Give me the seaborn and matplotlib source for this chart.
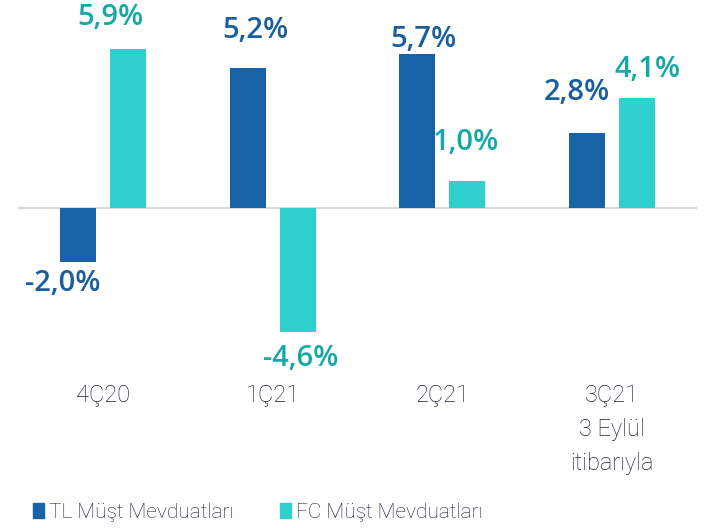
import matplotlib
matplotlib.use('Agg')
import matplotlib.pyplot as plt
import matplotlib.patches as mpatches
import seaborn as sns
import pandas as pd

# Datos
quarters = ['4Ç20', '1Ç21', '2Ç21', '3Ç21\n3 Eylül\nitibarıyla']
series = ['TL Müşt Mevduatları', 'FC Müşt Mevduatları']
tl_values = [-2.0, 5.2, 5.7, 2.8]
fc_values = [5.9, -4.6, 1.0, 4.1]

bar_colors = ['#1763A6', '#2ECFCD']
label_colors = ['#1A5E9E', '#14A9A6']
text_color = '#16223D'

# Desplazamiento de etiquetas (px): (dx, distancia desde el extremo de la barra)
label_nudge = [
    [(-15, 22), (8, 37), (6, 15), (-10, 40)],
    [(-17, 32), (3, 27), (-1, 39), (10, 28)],
]

df = pd.DataFrame({
    'quarter': quarters * 2,
    'series': [series[0]] * 4 + [series[1]] * 4,
    'value': tl_values + fc_values,
})

sns.set_style('white')
plt.rcParams['font.family'] = ['Roboto', 'DejaVu Sans']

fig = plt.figure(figsize=(7.09, 5.28), dpi=100)
ax = fig.add_axes([18 / 709, 1 - 383 / 528, 679 / 709, 377 / 528])

sns.barplot(data=df, x='quarter', y='value', hue='series', order=quarters,
            hue_order=series, palette=bar_colors, width=0.588, gap=0.28,
            linewidth=0, saturation=1, legend=False, ax=ax)

ax.set_xlim(-0.5, 3.5)
ax.set_ylim(-6.5, 7.5)
ax.axhline(0, color='#D9D9D9', lw=1.5, zorder=0)

# Etiquetas de valores
for container, col, nudges in zip(ax.containers, label_colors, label_nudge):
    for patch, (dx, dist) in zip(container, nudges):
        h = patch.get_height()
        x = patch.get_x() + patch.get_width() / 2
        txt = f'{h:.1f}%'.replace('.', ',')
        dy = dist if h >= 0 else -dist
        ax.annotate(txt, (x, h), xytext=(dx, dy), textcoords='offset pixels',
                    ha='center', va='center', color=col, fontsize=21,
                    fontweight='semibold', family=['Open Sans', 'DejaVu Sans'])

ax.set_xlabel('')
ax.set_ylabel('')
ax.set_yticks([])
ax.tick_params(axis='x', length=0, pad=1, labelsize=17, labelcolor=text_color)
for lbl in ax.get_xticklabels():
    lbl.set_fontweight('light')
    lbl.set_linespacing(1.6)
sns.despine(ax=ax, left=True, bottom=True)

# Leyenda
handles = [mpatches.Patch(color=c, label=s) for c, s in zip(bar_colors, series)]
leg = fig.legend(handles=handles, loc='center', bbox_to_anchor=(258 / 709, 1 - 512 / 528),
                 ncol=2, frameon=False, fontsize=15, handlelength=0.53, handleheight=0.72,
                 handletextpad=0.25, columnspacing=2.2, borderaxespad=0, borderpad=0)
for t in leg.get_texts():
    t.set_color(text_color)
    t.set_fontweight('light')

fig.savefig('out.png', dpi=100)
